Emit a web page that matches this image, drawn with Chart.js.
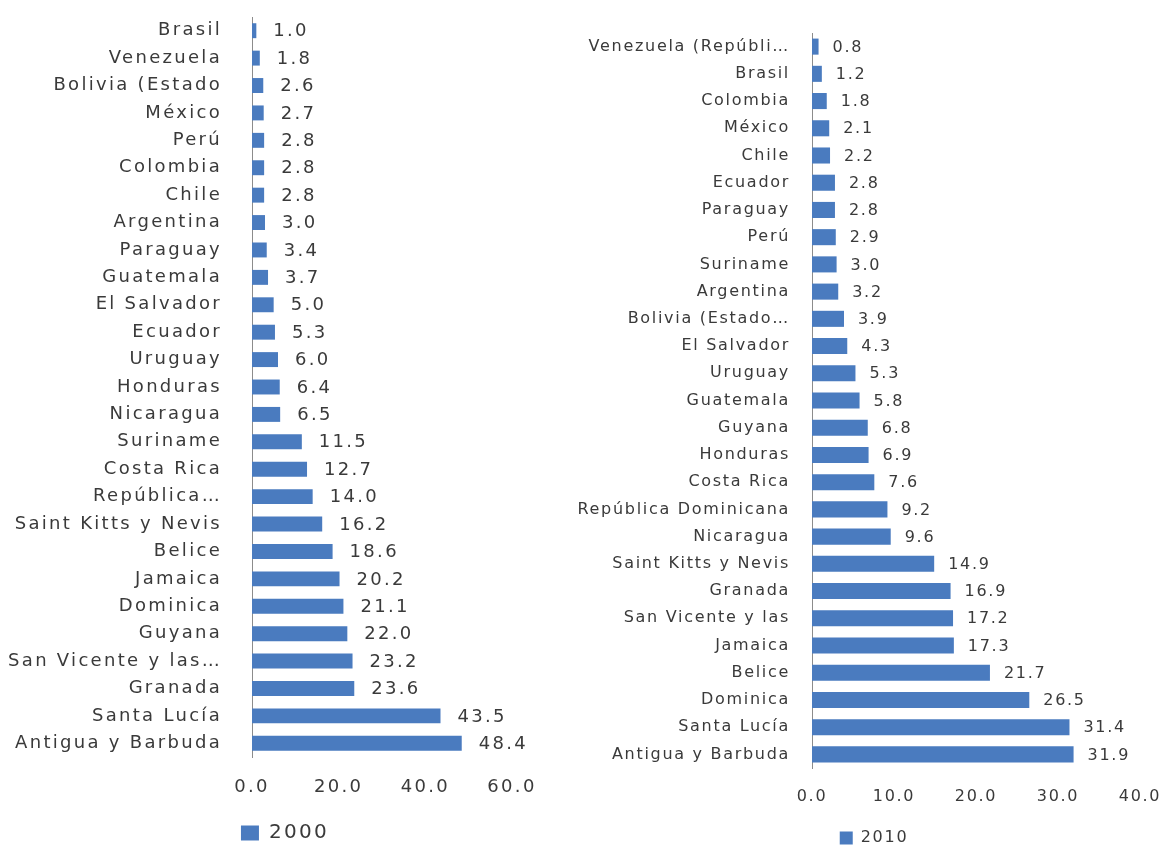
<!DOCTYPE html>
<html>
<head>
<meta charset="utf-8">
<script src="https://cdn.jsdelivr.net/npm/chart.js@4"></script>
<style>
  html, body { margin: 0; padding: 0; background: #ffffff; overflow: hidden; }
  #wrap { position: relative; width: 1160px; height: 846px; }
  #c2000 { position: absolute; left: 0; top: 0; }
  #c2010 { position: absolute; left: 560px; top: 0; }
</style>
</head>
<body>
<div id="wrap">
  <canvas id="c2000" width="560" height="846"></canvas>
  <canvas id="c2010" width="600" height="846"></canvas>
</div>
<script>
// ---- data: 2000 ----
const categories2000 = [
  'Brasil', 'Venezuela', 'Bolivia (Estado', 'México', 'Perú', 'Colombia', 'Chile',
  'Argentina', 'Paraguay', 'Guatemala', 'El Salvador', 'Ecuador', 'Uruguay', 'Honduras',
  'Nicaragua', 'Suriname', 'Costa Rica', 'República…', 'Saint Kitts y Nevis', 'Belice',
  'Jamaica', 'Dominica', 'Guyana', 'San Vicente y las…', 'Granada', 'Santa Lucía',
  'Antigua y Barbuda'
];
const values2000 = [
  1.0, 1.8, 2.6, 2.7, 2.8, 2.8, 2.8,
  3.0, 3.4, 3.7, 5.0, 5.3, 6.0, 6.4,
  6.5, 11.5, 12.7, 14.0, 16.2, 18.6,
  20.2, 21.1, 22.0, 23.2, 23.6, 43.5,
  48.4
];
const ticks2000 = [0, 20, 40, 60];
const seriesName2000 = '2000';

// ---- data: 2010 ----
const categories2010 = [
  'Venezuela (Repúbli…', 'Brasil', 'Colombia', 'México', 'Chile', 'Ecuador', 'Paraguay',
  'Perú', 'Suriname', 'Argentina', 'Bolivia (Estado…', 'El Salvador', 'Uruguay', 'Guatemala',
  'Guyana', 'Honduras', 'Costa Rica', 'República Dominicana', 'Nicaragua', 'Saint Kitts y Nevis',
  'Granada', 'San Vicente y las', 'Jamaica', 'Belice', 'Dominica', 'Santa Lucía',
  'Antigua y Barbuda'
];
const values2010 = [
  0.8, 1.2, 1.8, 2.1, 2.2, 2.8, 2.8,
  2.9, 3.0, 3.2, 3.9, 4.3, 5.3, 5.8,
  6.8, 6.9, 7.6, 9.2, 9.6, 14.9,
  16.9, 17.2, 17.3, 21.7, 26.5, 31.4,
  31.9
];
const ticks2010 = [0, 10, 20, 30, 40];
const seriesName2010 = '2010';

const BAR = '#4a7bbf';
const TEXT = '#3a3a3a';
const FAMILY = '"DejaVu Sans", Verdana, sans-serif';

const spacingPlugin = {
  id: 'spacing',
  beforeUpdate(chart, args, opts) { chart.ctx.letterSpacing = opts.ls; },
  beforeLayout(chart, args, opts) { chart.ctx.letterSpacing = opts.ls; },
  afterLayout(chart, args, opts) {
    // shift the legend block so it sits centred under the whole panel
    if (chart.legend) {
      chart.legend.left += opts.legendShift;
      chart.legend.right += opts.legendShift;
    }
  },
  beforeDraw(chart, args, opts) { chart.ctx.letterSpacing = opts.ls; }
};

const valueLabelPlugin = {
  id: 'valueLabels',
  afterDatasetsDraw(chart, args, opts) {
    const ctx = chart.ctx;
    const meta = chart.getDatasetMeta(0);
    const data = chart.data.datasets[0].data;
    ctx.save();
    ctx.letterSpacing = opts.ls;
    ctx.font = opts.size + 'px ' + FAMILY;
    ctx.fillStyle = TEXT;
    ctx.textAlign = 'left';
    ctx.textBaseline = 'middle';
    meta.data.forEach((bar, i) => {
      ctx.fillText(Number(data[i]).toFixed(1), bar.x + opts.offset, bar.y + 1);
    });
    ctx.restore();
  }
};

function makeChart(id, cats, vals, ticks, name, cfg) {
  const tickMax = ticks[ticks.length - 1];
  const step = ticks[1] - ticks[0];
  return new Chart(document.getElementById(id), {
    type: 'bar',
    data: {
      labels: cats,
      datasets: [{
        label: name,
        data: vals,
        backgroundColor: BAR,
        borderWidth: 0,
        categoryPercentage: 1.0,
        barPercentage: cfg.barPct
      }]
    },
    options: {
      indexAxis: 'y',
      responsive: false,
      animation: false,
      devicePixelRatio: 1,
      layout: { padding: cfg.padding },
      scales: {
        y: {
          offset: true,
          grid: { display: false, drawTicks: false },
          border: { display: true, color: '#8c8c8c', width: 1 },
          ticks: {
            autoSkip: false,
            padding: cfg.yPad,
            color: TEXT,
            font: { family: FAMILY, size: cfg.font }
          },
          afterFit(scale) {
            scale.width = cfg.yWidth;
            scale.paddingTop = 0;
            scale.paddingBottom = 0;
          }
        },
        x: {
          min: 0,
          max: tickMax,
          grid: { display: false, drawTicks: false },
          border: { display: false },
          ticks: {
            stepSize: step,
            padding: cfg.xPad,
            color: TEXT,
            font: { family: FAMILY, size: cfg.font },
            callback: (v) => Number(v).toFixed(1)
          },
          afterFit(scale) {
            scale.height = cfg.xHeight;
            scale.paddingLeft = 0;
            scale.paddingRight = 0;
            scale.paddingTop = 0;
            scale.paddingBottom = 0;
          }
        }
      },
      plugins: {
        legend: {
          position: 'bottom',
          labels: {
            color: TEXT,
            boxWidth: cfg.boxW,
            boxHeight: cfg.boxH,
            padding: cfg.legPad,
            font: { family: FAMILY, size: cfg.legFont }
          }
        },
        tooltip: { enabled: false },
        spacing: { ls: cfg.ls, legendShift: cfg.legShift },
        valueLabels: { ls: cfg.ls, size: cfg.font, offset: cfg.valOff }
      }
    },
    plugins: [spacingPlugin, valueLabelPlugin]
  });
}

makeChart('c2000', categories2000, values2000, ticks2000, seriesName2000, {
  barPct: 0.545,
  padding: { left: 0, right: 48, top: 17, bottom: -7 },
  yWidth: 252, yPad: 30, xPad: 20, xHeight: 42,
  font: 18, ls: '2.3px', legFont: 20, boxW: 18, boxH: 15, legPad: 24, valOff: 17,
  legShift: 29
});

makeChart('c2010', categories2010, values2010, ticks2010, seriesName2010, {
  barPct: 0.59,
  padding: { left: 0, right: 20, top: 33, bottom: -10 },
  yWidth: 252, yPad: 22, xPad: 19, xHeight: 40,
  font: 16, ls: '1.7px', legFont: 16, boxW: 13, boxH: 13, legPad: 22, valOff: 14,
  legShift: 24
});
</script>
</body>
</html>
